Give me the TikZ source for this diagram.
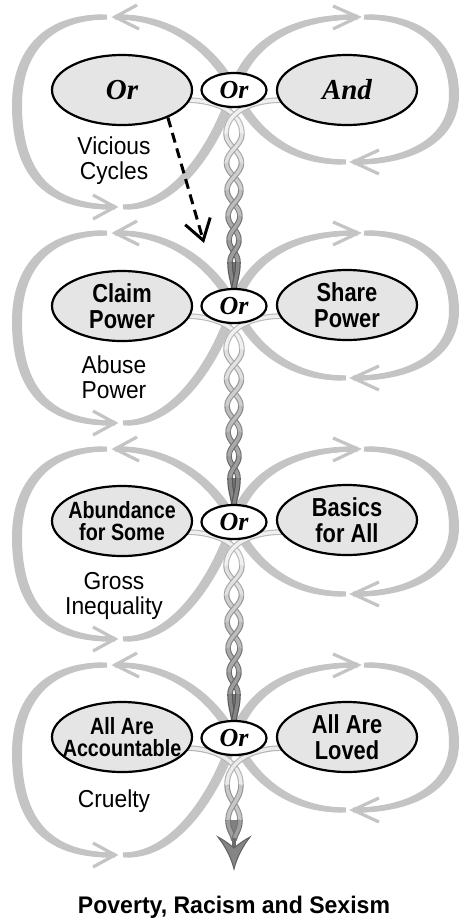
\documentclass[tikz,border=0pt]{standalone}
\usepackage{fontspec}
\setmainfont{Liberation Sans}
\newfontfamily\lblfont[FakeStretch=0.93]{Liberation Sans}
\newfontfamily\boxfont[FakeStretch=0.84]{Liberation Sans}
\newfontfamily\titlefont[FakeStretch=0.96]{Liberation Sans}
\newfontfamily\serifbi{Liberation Serif}
\usetikzlibrary{shapes.geometric,arrows.meta}
\definecolor{loopgray}{RGB}{196,196,196}
\definecolor{ellfill}{RGB}{229,229,229}

\newcommand\loopsegs{%
 (0,0) .. controls (-20,-40) and (-62,-73) .. (-116.5,-73)
 (-129.5,-73) .. controls (-185,-73) and (-217,-40) .. (-217,15) .. controls (-217,85) and (-185,117) .. (-121.5,117)
 (-108.5,117) .. controls (-60,117) and (-20,60) .. (0,0)
 (0,0) .. controls (14,-45) and (55,-73) .. (121.5,-73)
 (132.5,-73) .. controls (185,-73) and (220,-45) .. (220,5) .. controls (220,50) and (175,72) .. (121.5,72)
 (109.5,72) .. controls (60,72) and (20,45) .. (0,0)}

\newcommand\tubepath[3]{\draw[line width=5.6pt,draw=#2] #1;\draw[line width=3.4pt,draw=#3] #1;}

\newcommand\fullbraid{%
  \tubepath{(-50,10) .. controls (-14,10) and (8,24) .. (8,44)}{black!28}{black!6}
  \tubepath{(50,10) .. controls (14,10) and (-8,24) .. (-8,44)}{black!28}{black!6}
  \foreach \yA/\mA/\yB/\mB/\fr in {44/8/73/7.5/0.1,73/7.5/100/7/0.3,100/7/126/6/0.5,126/6/150/5/0.7,150/5/172/4/0.85}{
    \pgfmathsetmacro\bca{\yA+0.4*(\yB-\yA)}
    \pgfmathsetmacro\bcb{\yB-0.4*(\yB-\yA)}
    \pgfmathsetmacro\bco{32+32*\fr}
    \pgfmathsetmacro\bci{8+36*\fr}
    \tubepath{(-\mA,\yA) .. controls (-\mA,\bca) and (\mB,\bcb) .. (\mB,\yB)}{black!\bco}{black!\bci}
    \tubepath{(\mA,\yA) .. controls (\mA,\bca) and (-\mB,\bcb) .. (-\mB,\yB)}{black!\bco}{black!\bci}
  }
  \fill[black!55] (-4,172) .. controls (-4,184) and (-1,190) .. (0,200) .. controls (1,190) and (4,184) .. (4,172) -- cycle;
  \tubepath{(-4,172) .. controls (-4,184) and (-1,190) .. (0,199)}{black!66}{black!48}
  \tubepath{(4,172) .. controls (4,184) and (1,190) .. (0,199)}{black!66}{black!48}
}

\newcommand\lastbraid{%
  \tubepath{(-50,10) .. controls (-14,10) and (7,26) .. (7,47)}{black!30}{black!8}
  \tubepath{(50,10) .. controls (14,10) and (-7,26) .. (-7,47)}{black!30}{black!8}
  \tubepath{(-7,47) .. controls (-7,62) and (6,68) .. (6,82)}{black!42}{black!22}
  \tubepath{(7,47) .. controls (7,62) and (-6,68) .. (-6,82)}{black!42}{black!22}
  \fill[black!50] (-6,82) .. controls (-6,92) and (-1,96) .. (0,103) .. controls (1,96) and (6,92) .. (6,82) -- cycle;
  \tubepath{(-6,82) .. controls (-6,92) and (-1,96) .. (0,102)}{black!55}{black!38}
  \tubepath{(6,82) .. controls (6,92) and (1,96) .. (0,102)}{black!55}{black!38}
  \draw[line width=4pt,black!58] (0,100) -- (0,112);
  \filldraw[fill=black!48,draw=black!62,line width=1pt] (0,131) .. controls (-3,119) and (-9,108) .. (-16,99) .. controls (-10,102) and (-5,106) .. (0,110) .. controls (5,106) and (10,102) .. (16,99) .. controls (9,108) and (3,119) .. (0,131) -- cycle;
}

\begin{document}
\begin{tikzpicture}[x=1pt,y=-1pt,
  loopline/.style={draw=loopgray,line width=5pt},
  chev/.style={draw=loopgray,line width=3.2pt,line join=miter},
  bigell/.style={ellipse,draw=black,line width=2.2pt,fill=ellfill,minimum width=140pt,minimum height=70pt,inner xsep=-25pt,inner ysep=-10pt,align=center},
  smallell/.style={ellipse,draw=black,line width=2.2pt,fill=white,minimum width=65pt,minimum height=34pt,inner sep=0pt,font=\serifbi\bfseries\itshape\fontsize{26}{26}\selectfont},
  boxtxt/.style={font=\boxfont\bfseries\fontsize{26}{25.5}\selectfont},
  boxsmall/.style={font=\boxfont\bfseries\fontsize{23.5}{22.5}\selectfont},
  bigserif/.style={font=\serifbi\bfseries\itshape\fontsize{29}{29}\selectfont},
  lbl/.style={align=center,font=\lblfont\fontsize{24.5}{25}\selectfont,inner sep=0pt},
  dasharrow/.style={draw=black,line width=3pt,dash pattern=on 10pt off 6pt,-{Straight Barb[length=20pt,width=26pt,line width=3pt]}}
]
\useasboundingbox (0,0) rectangle (466,922);

% figure-eight loops
\foreach \Y in {90,306,522,738}{
  \begin{scope}[shift={(234,\Y)}]
    \foreach \dx in {-2.5,0,2.5}{\draw[loopline,xshift=\dx pt] \loopsegs;}
    \draw[chev] (-97,-85) -- (-119,-73) -- (-95,-61);
    \draw[chev] (-141,105) -- (-119,117) -- (-141,129);
    \draw[chev] (99,-84) -- (124,-73) -- (99,-61);
    \draw[chev] (145,60) -- (119,72) -- (145,84);
  \end{scope}
}

% braids
\foreach \Y in {90,306,522}{
  \begin{scope}[shift={(234,\Y)}]
    \fullbraid
  \end{scope}
}
\begin{scope}[shift={(234,738)}]
  \lastbraid
\end{scope}

% panel 1
\node[bigell,bigserif] (pL1) at (122,90) {Or};
\node[bigell,bigserif] (pR1) at (347,90) {And};
\node[smallell] (pO1) at (234,90) {Or};
\node[lbl] (tV) at (114,161) {Vicious\\Cycles};

% panel 2
\node[bigell,boxtxt] (pL2) at (122,306) {Claim\\Power};
\node[bigell,boxtxt] (pR2) at (347,305) {Share\\Power};
\node[smallell] (pO2) at (234,306) {Or};
\node[lbl] (tA) at (114,377) {Abuse\\Power};

% panel 3
\node[bigell,boxsmall] (pL3) at (122,521) {Abundance\\for Some};
\node[bigell,boxtxt] (pR3) at (347,520) {Basics\\for All};
\node[smallell] (pO3) at (234,522) {Or};
\node[lbl] (tG) at (114,596) {Gross\\Inequality};

% panel 4
\node[bigell,boxsmall] (pL4) at (122,737) {All Are\\Accountable};
\node[bigell,boxtxt] (pR4) at (347,737) {All Are\\Loved};
\node[smallell] (pO4) at (234,738) {Or};
\node[lbl] (tC) at (114,801) {Cruelty};

% dashed arrow
\coordinate (dashend) at (204,243);
\draw[dasharrow] (pL1.-31) -- (dashend);

% title
\node[font=\titlefont\bfseries\fontsize{24}{26}\selectfont,anchor=base,inner sep=0pt] (title) at (234,913) {Poverty, Racism and Sexism};
\end{tikzpicture}
\end{document}
